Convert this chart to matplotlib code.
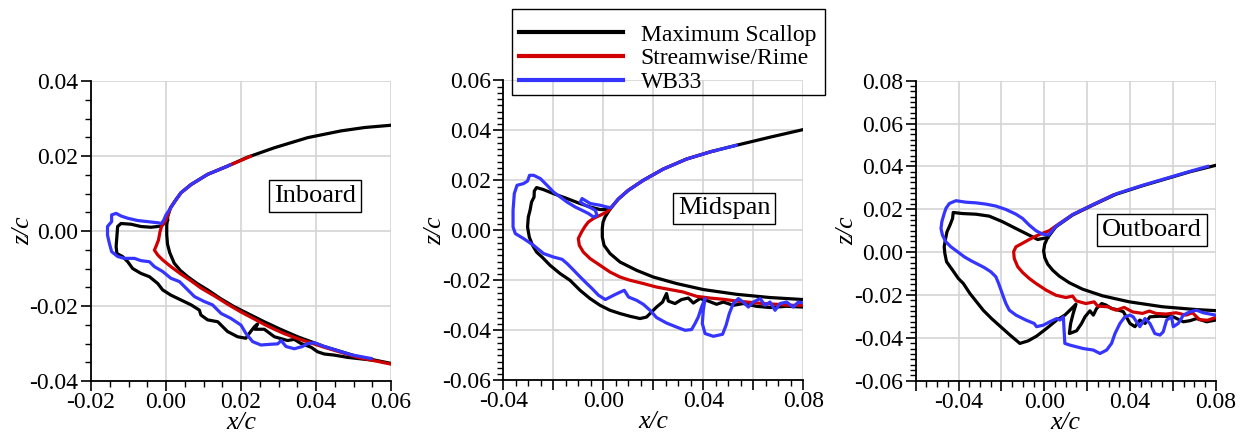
import numpy as np
import matplotlib
matplotlib.use('Agg')
import matplotlib.pyplot as plt
from matplotlib.ticker import MultipleLocator, FuncFormatter
from matplotlib.patches import Rectangle

plt.rcParams['font.family'] = ['Liberation Serif', 'DejaVu Serif']
plt.rcParams['axes.unicode_minus'] = False

# ---------------- Inboard ----------------
in_foil_x = [0.0600, 0.0530, 0.0467, 0.0378, 0.0289, 0.0218, 0.0164, 0.0111, 0.0067, 0.0040, 0.0027, 0.0012,
             0.0005, 0.0002, 0.0002, 0.0004, 0.0010, 0.0022, 0.0038, 0.0058, 0.0083, 0.0111, 0.0145, 0.0182,
             0.0222, 0.0262, 0.0305, 0.0351, 0.0422, 0.0511, 0.0600]
in_foil_z = [0.0282, 0.0276, 0.0267, 0.0249, 0.0222, 0.0197, 0.0173, 0.0151, 0.0124, 0.0102, 0.0084, 0.0062,
             0.0040, 0.0015, -0.0010, -0.0035, -0.0058, -0.0086, -0.0105, -0.0122, -0.0140, -0.0157, -0.0180,
             -0.0202, -0.0222, -0.0242, -0.0262, -0.0282, -0.0308, -0.0335, -0.0353]

in_scallop_x = [0.0004, -0.0013, -0.0040, -0.0067, -0.0093, -0.0120, -0.0129, -0.0131, -0.0133, -0.0131, -0.0116,
                -0.0102, -0.0089, -0.0067, -0.0044, -0.0022, -0.0009, 0.0013, 0.0040, 0.0067, 0.0089, 0.0093,
                0.0111, 0.0138, 0.0151, 0.0164, 0.0191, 0.0213, 0.0222, 0.0236, 0.0244, 0.0237, 0.0262, 0.0289,
                0.0324, 0.0342, 0.0360, 0.0387, 0.0404, 0.0422, 0.0449, 0.0484, 0.0511, 0.0547]
in_scallop_z = [0.0029, 0.0013, 0.0010, 0.0012, 0.0018, 0.0020, 0.0012, -0.0015, -0.0042, -0.0060, -0.0068,
                -0.0082, -0.0100, -0.0113, -0.0122, -0.0140, -0.0157, -0.0171, -0.0184, -0.0197, -0.0211, -0.0224,
                -0.0237, -0.0242, -0.0255, -0.0268, -0.0282, -0.0286, -0.0273, -0.0255, -0.0248, -0.0262, -0.0262,
                -0.0282, -0.0292, -0.0289, -0.0300, -0.0310, -0.0322, -0.0328, -0.0331, -0.0337, -0.0340, -0.0344]

in_rime_x = [0.0225, 0.0164, 0.0111, 0.0067, 0.0040, 0.0027, 0.0012, 0.0000, -0.0012, -0.0016, -0.0020, -0.0027,
             -0.0031, -0.0022, -0.0009, 0.0013, 0.0040, 0.0067, 0.0093, 0.0129, 0.0164, 0.0200, 0.0236, 0.0262,
             0.0289, 0.0316, 0.0351, 0.0422, 0.0511, 0.0600]
in_rime_z = [0.0199, 0.0173, 0.0151, 0.0124, 0.0102, 0.0084, 0.0062, 0.0029, 0.0012, -0.0002, -0.0024, -0.0042,
             -0.0051, -0.0064, -0.0077, -0.0095, -0.0115, -0.0133, -0.0152, -0.0173, -0.0195, -0.0216, -0.0235,
             -0.0249, -0.0262, -0.0274, -0.0287, -0.0310, -0.0337, -0.0355]

in_wb33_x = [0.0170, 0.0164, 0.0111, 0.0067, 0.0040, 0.0027, 0.0013, 0.0000, -0.0006, -0.0012, -0.0022, -0.0049,
             -0.0076, -0.0102, -0.0120, -0.0133, -0.0145, -0.0145, -0.0156, -0.0156, -0.0151, -0.0145, -0.0129,
             -0.0111, -0.0084, -0.0067, -0.0044, -0.0031, -0.0009, 0.0013, 0.0036, 0.0058, 0.0076, 0.0102,
             0.0124, 0.0147, 0.0173, 0.0200, 0.0213, 0.0231, 0.0253, 0.0280, 0.0298, 0.0307, 0.0320, 0.0342,
             0.0364, 0.0378, 0.0396, 0.0422, 0.0458, 0.0493, 0.0547]
in_wb33_z = [0.0176, 0.0173, 0.0151, 0.0124, 0.0102, 0.0084, 0.0062, 0.0043, 0.0029, 0.0020, 0.0022, 0.0025,
             0.0028, 0.0034, 0.0040, 0.0047, 0.0043, 0.0025, 0.0012, -0.0011, -0.0033, -0.0055, -0.0068,
             -0.0073, -0.0073, -0.0079, -0.0082, -0.0095, -0.0108, -0.0126, -0.0135, -0.0157, -0.0175, -0.0188,
             -0.0197, -0.0220, -0.0233, -0.0251, -0.0273, -0.0295, -0.0304, -0.0302, -0.0301, -0.0292, -0.0308,
             -0.0314, -0.0308, -0.0300, -0.0298, -0.0308, -0.0319, -0.0330, -0.0340]

# ---------------- Midspan ----------------
mid_foil_x = [0.0800, 0.0665, 0.0532, 0.0432, 0.0333, 0.0240, 0.0160, 0.0100, 0.0060, 0.0027, 0.0007, -0.0001,
              -0.0004, -0.0004, 0.0003, 0.0027, 0.0067, 0.0133, 0.0200, 0.0293, 0.0400, 0.0533, 0.0667, 0.0800]
mid_foil_z = [0.0403, 0.0372, 0.0340, 0.0315, 0.0285, 0.0245, 0.0200, 0.0160, 0.0125, 0.0085, 0.0053, 0.0033,
              0.0008, -0.0027, -0.0060, -0.0093, -0.0127, -0.0160, -0.0187, -0.0213, -0.0237, -0.0256, -0.0269,
              -0.0277]

mid_scallop_x = [0.0025, -0.0013, -0.0052, -0.0093, -0.0145, -0.0200, -0.0240, -0.0267, -0.0276, -0.0277, -0.0287,
                 -0.0293, -0.0300, -0.0303, -0.0296, -0.0283, -0.0267, -0.0243, -0.0213, -0.0173, -0.0133, -0.0093,
                 -0.0053, -0.0013, 0.0027, 0.0067, 0.0107, 0.0147, 0.0173, 0.0193, 0.0213, 0.0237, 0.0253, 0.0260,
                 0.0287, 0.0313, 0.0340, 0.0360, 0.0387, 0.0420, 0.0453, 0.0480, 0.0520, 0.0560, 0.0613, 0.0667,
                 0.0733, 0.0800]
mid_scallop_z = [0.0083, 0.0083, 0.0093, 0.0107, 0.0127, 0.0147, 0.0163, 0.0171, 0.0157, 0.0133, 0.0113, 0.0080,
                 0.0053, 0.0013, -0.0027, -0.0060, -0.0087, -0.0109, -0.0140, -0.0173, -0.0200, -0.0240, -0.0273,
                 -0.0300, -0.0320, -0.0333, -0.0344, -0.0353, -0.0347, -0.0327, -0.0307, -0.0287, -0.0253, -0.0283,
                 -0.0293, -0.0277, -0.0271, -0.0291, -0.0273, -0.0283, -0.0296, -0.0287, -0.0300, -0.0293, -0.0304,
                 -0.0309, -0.0304, -0.0307]

mid_rime_x = [0.0450, 0.0432, 0.0333, 0.0240, 0.0160, 0.0100, 0.0060, 0.0027, 0.0013, -0.0013, -0.0040, -0.0060,
              -0.0073, -0.0087, -0.0100, -0.0096, -0.0080, -0.0053, -0.0013, 0.0027, 0.0067, 0.0107, 0.0160,
              0.0213, 0.0267, 0.0320, 0.0373, 0.0427, 0.0480, 0.0533, 0.0587, 0.0640, 0.0693, 0.0747, 0.0800]
mid_rime_z = [0.0319, 0.0315, 0.0285, 0.0245, 0.0200, 0.0160, 0.0125, 0.0085, 0.0073, 0.0060, 0.0047, 0.0033,
              0.0016, -0.0007, -0.0033, -0.0060, -0.0087, -0.0113, -0.0140, -0.0167, -0.0187, -0.0200, -0.0213,
              -0.0227, -0.0237, -0.0247, -0.0264, -0.0271, -0.0276, -0.0283, -0.0288, -0.0293, -0.0296, -0.0300,
              -0.0300]

mid_wb33_x = [0.0532, 0.0432, 0.0333, 0.0240, 0.0160, 0.0100, 0.0060, 0.0030, 0.0015, -0.0012, -0.0052, -0.0085,
              -0.0092, -0.0072, -0.0052, -0.0032, -0.0025, -0.0039, -0.0059, -0.0085, -0.0112, -0.0145, -0.0172,
              -0.0199, -0.0225, -0.0252, -0.0279, -0.0295, -0.0303, -0.0319, -0.0345, -0.0356, -0.0361, -0.0361,
              -0.0352, -0.0319, -0.0279, -0.0239, -0.0199, -0.0165, -0.0145, -0.0125, -0.0099, -0.0072, -0.0045,
              -0.0019, 0.0008, 0.0041, 0.0068, 0.0084, 0.0101, 0.0133, 0.0160, 0.0187, 0.0213, 0.0253, 0.0293,
              0.0327, 0.0353, 0.0367, 0.0380, 0.0393, 0.0407, 0.0400, 0.0396, 0.0407, 0.0440, 0.0477, 0.0491,
              0.0504, 0.0520, 0.0540, 0.0560, 0.0580, 0.0600, 0.0627, 0.0647, 0.0667, 0.0687, 0.0707, 0.0733,
              0.0760, 0.0780, 0.0800]
mid_wb33_z = [0.0340, 0.0315, 0.0285, 0.0245, 0.0200, 0.0160, 0.0125, 0.0090, 0.0093, 0.0100, 0.0107, 0.0127,
              0.0113, 0.0100, 0.0091, 0.0080, 0.0060, 0.0053, 0.0067, 0.0080, 0.0093, 0.0113, 0.0133, 0.0153,
              0.0180, 0.0207, 0.0220, 0.0220, 0.0197, 0.0187, 0.0180, 0.0147, 0.0080, 0.0013, -0.0013, -0.0033,
              -0.0060, -0.0093, -0.0107, -0.0116, -0.0133, -0.0153, -0.0180, -0.0207, -0.0233, -0.0260, -0.0277,
              -0.0260, -0.0247, -0.0240, -0.0267, -0.0280, -0.0296, -0.0320, -0.0349, -0.0371, -0.0387, -0.0400,
              -0.0397, -0.0373, -0.0347, -0.0307, -0.0273, -0.0320, -0.0373, -0.0413, -0.0424, -0.0416, -0.0380,
              -0.0333, -0.0293, -0.0273, -0.0287, -0.0307, -0.0287, -0.0273, -0.0300, -0.0287, -0.0320, -0.0293,
              -0.0287, -0.0307, -0.0287, -0.0291]

# ---------------- Outboard ----------------
out_foil_x = [0.0800, 0.0680, 0.0568, 0.0459, 0.0335, 0.0226, 0.0132, 0.0054, 0.0016, 0.0002, -0.0003, 0.0002,
              0.0016, 0.0039, 0.0070, 0.0117, 0.0179, 0.0272, 0.0397, 0.0552, 0.0708, 0.0800]
out_foil_z = [0.0405, 0.0375, 0.0342, 0.0310, 0.0270, 0.0219, 0.0173, 0.0118, 0.0068, 0.0037, 0.0006, -0.0025,
              -0.0056, -0.0084, -0.0112, -0.0143, -0.0173, -0.0204, -0.0232, -0.0255, -0.0268, -0.0273]

out_scallop_x = [0.0016, -0.0031, -0.0062, -0.0132, -0.0195, -0.0257, -0.0319, -0.0381, -0.0425, -0.0428, -0.0440,
                 -0.0454, -0.0462, -0.0467, -0.0464, -0.0456, -0.0428, -0.0401, -0.0378, -0.0347, -0.0316, -0.0285,
                 -0.0246, -0.0207, -0.0160, -0.0114, -0.0075, -0.0036, 0.0011, 0.0058, 0.0096, 0.0128, 0.0148,
                 0.0135, 0.0123, 0.0117, 0.0151, 0.0174, 0.0190, 0.0213, 0.0229, 0.0244, 0.0268, 0.0288, 0.0314,
                 0.0338, 0.0369, 0.0400, 0.0423, 0.0446, 0.0470, 0.0493, 0.0540, 0.0602, 0.0649, 0.0680, 0.0711,
                 0.0758, 0.0800]
out_scallop_z = [0.0068, 0.0059, 0.0075, 0.0110, 0.0142, 0.0168, 0.0177, 0.0180, 0.0185, 0.0157, 0.0126, 0.0095,
                 0.0056, 0.0025, -0.0006, -0.0045, -0.0084, -0.0123, -0.0146, -0.0193, -0.0232, -0.0271, -0.0310,
                 -0.0345, -0.0387, -0.0426, -0.0414, -0.0392, -0.0356, -0.0317, -0.0294, -0.0263, -0.0243, -0.0286,
                 -0.0333, -0.0380, -0.0367, -0.0333, -0.0302, -0.0274, -0.0294, -0.0263, -0.0240, -0.0247, -0.0263,
                 -0.0268, -0.0278, -0.0333, -0.0348, -0.0317, -0.0333, -0.0302, -0.0299, -0.0302, -0.0325, -0.0320,
                 -0.0310, -0.0325, -0.0317]

out_rime_x = [0.0320, 0.0226, 0.0132, 0.0054, 0.0023, -0.0008, -0.0039, -0.0070, -0.0104, -0.0132, -0.0143,
              -0.0140, -0.0124, -0.0101, -0.0070, -0.0039, 0.0008, 0.0054, 0.0101, 0.0132, 0.0148, 0.0194, 0.0233,
              0.0249, 0.0296, 0.0335, 0.0373, 0.0412, 0.0459, 0.0490, 0.0521, 0.0568, 0.0615, 0.0661, 0.0692,
              0.0724, 0.0762, 0.0800]
out_rime_z = [0.0266, 0.0221, 0.0175, 0.0122, 0.0100, 0.0088, 0.0075, 0.0059, 0.0040, 0.0025, 0.0002, -0.0030,
              -0.0068, -0.0095, -0.0123, -0.0146, -0.0177, -0.0201, -0.0212, -0.0205, -0.0227, -0.0240, -0.0232,
              -0.0252, -0.0255, -0.0271, -0.0258, -0.0279, -0.0286, -0.0275, -0.0286, -0.0289, -0.0283, -0.0294,
              -0.0283, -0.0315, -0.0318, -0.0305]

out_wb33_x = [0.0762, 0.0680, 0.0568, 0.0459, 0.0335, 0.0226, 0.0132, 0.0054, 0.0020, -0.0008, -0.0039, -0.0070,
              -0.0101, -0.0132, -0.0179, -0.0226, -0.0272, -0.0319, -0.0366, -0.0412, -0.0443, -0.0459, -0.0467,
              -0.0478, -0.0482, -0.0475, -0.0459, -0.0436, -0.0405, -0.0373, -0.0342, -0.0311, -0.0280, -0.0249,
              -0.0226, -0.0213, -0.0202, -0.0191, -0.0179, -0.0163, -0.0132, -0.0086, -0.0047, -0.0036, -0.0005,
              0.0026, 0.0058, 0.0073, 0.0089, 0.0096, 0.0120, 0.0151, 0.0182, 0.0229, 0.0260, 0.0291, 0.0314,
              0.0330, 0.0353, 0.0376, 0.0400, 0.0415, 0.0446, 0.0470, 0.0493, 0.0516, 0.0540, 0.0555, 0.0571,
              0.0594, 0.0602, 0.0625, 0.0649, 0.0680, 0.0711, 0.0742, 0.0773, 0.0800]
out_wb33_z = [0.0400, 0.0377, 0.0344, 0.0312, 0.0272, 0.0221, 0.0175, 0.0120, 0.0080, 0.0084, 0.0100, 0.0126,
              0.0157, 0.0177, 0.0199, 0.0215, 0.0224, 0.0230, 0.0233, 0.0240, 0.0227, 0.0204, 0.0180, 0.0142,
              0.0110, 0.0079, 0.0048, 0.0025, 0.0002, -0.0022, -0.0040, -0.0056, -0.0072, -0.0092, -0.0115,
              -0.0146, -0.0177, -0.0208, -0.0240, -0.0271, -0.0294, -0.0317, -0.0333, -0.0348, -0.0341, -0.0325,
              -0.0310, -0.0317, -0.0302, -0.0426, -0.0434, -0.0442, -0.0450, -0.0457, -0.0473, -0.0457, -0.0426,
              -0.0380, -0.0333, -0.0302, -0.0294, -0.0302, -0.0348, -0.0310, -0.0333, -0.0380, -0.0387, -0.0372,
              -0.0317, -0.0302, -0.0348, -0.0333, -0.0294, -0.0278, -0.0271, -0.0283, -0.0289, -0.0294]

labels = ['Maximum Scallop', 'Streamwise/Rime', 'WB33']
colors = ['#000000', '#d00000', '#3535ff']

panels = [
    dict(name='Inboard', xlim=(-0.02, 0.06), ylim=(-0.04, 0.04), xstep=0.02, ylabstep=0.02, yminor=0.005,
         box=(0.0397, 0.0093), rect=[91 / 1244, 57 / 438, 300 / 1244, 300 / 438],
         foil=(in_foil_x, in_foil_z),
         shapes=[(in_scallop_x, in_scallop_z), (in_rime_x, in_rime_z), (in_wb33_x, in_wb33_z)]),
    dict(name='Midspan', xlim=(-0.04, 0.08), ylim=(-0.06, 0.06), xstep=0.04, ylabstep=0.02, yminor=0.0025,
         box=(0.0483, 0.0088), rect=[503.3 / 1244, 57.7 / 438, 300 / 1244, 300 / 438],
         foil=(mid_foil_x, mid_foil_z),
         shapes=[(mid_scallop_x, mid_scallop_z), (mid_rime_x, mid_rime_z), (mid_wb33_x, mid_wb33_z)]),
    dict(name='Outboard', xlim=(-0.06, 0.08), ylim=(-0.06, 0.08), xstep=0.04, ylabstep=0.02, yminor=0.0025,
         box=(0.0503, 0.0103), rect=[915.7 / 1244, 57.3 / 438, 300 / 1244, 300 / 438],
         foil=(out_foil_x, out_foil_z),
         shapes=[(out_scallop_x, out_scallop_z), (out_rime_x, out_rime_z), (out_wb33_x, out_wb33_z)]),
]


def make_fmt(step):
    def fmt(v, pos):
        k = v / step
        if abs(k - round(k)) > 1e-6:
            return ''
        if abs(v) < 1e-9:
            v = 0.0
        return '%.2f' % v
    return FuncFormatter(fmt)


fig = plt.figure(figsize=(12.44, 4.38), dpi=100)
handles = []
for p in panels:
    ax = fig.add_axes(p['rect'])
    ax.plot(p['foil'][0], p['foil'][1], color=colors[0], lw=2.3, solid_joinstyle='round', zorder=3)
    for (sx, sz), c, lab in zip(p['shapes'], colors, labels):
        ln, = ax.plot(sx, sz, color=c, lw=2.3, label=lab, solid_joinstyle='round', zorder=3)
        if len(handles) < 3:
            handles.append(ln)
    ax.set_xlim(p['xlim'])
    ax.set_ylim(p['ylim'])
    ax.xaxis.set_major_locator(MultipleLocator(0.02))
    ax.xaxis.set_minor_locator(MultipleLocator(0.005))
    ax.yaxis.set_major_locator(MultipleLocator(0.02))
    ax.yaxis.set_minor_locator(MultipleLocator(p['yminor']))
    ax.xaxis.set_major_formatter(make_fmt(p['xstep']))
    ax.yaxis.set_major_formatter(make_fmt(p['ylabstep']))
    ax.grid(True, which='major', color='#d4d4d4', lw=1.2)
    ax.set_axisbelow(True)
    for s in ['top', 'right']:
        ax.spines[s].set_visible(False)
    for s in ['left', 'bottom']:
        ax.spines[s].set_linewidth(1.3)
    ax.tick_params(which='major', direction='out', length=7, width=1.2, labelsize=17, pad=2)
    ax.tick_params(axis='x', which='major', pad=1)
    ax.tick_params(which='minor', direction='out', length=4, width=1.0)
    ax.set_xlabel('x/c', fontsize=18.5, style='italic')
    ax.set_ylabel('z/c', fontsize=18.5, style='italic')
    ax.xaxis.set_label_coords(0.5, -0.103)
    ax.yaxis.set_label_coords(-0.19, 0.5)
    ax.text(p['box'][0], p['box'][1], p['name'], fontsize=19, ha='center', va='center', zorder=5,
            bbox=dict(boxstyle='square,pad=0.18', fc='white', ec='black', lw=1.0))

# legend box drawn as a plain rectangle in figure pixels, legend entries placed inside it
fig.patches.append(Rectangle((512 / 1244, 1 - 95 / 438), 313 / 1244, 86 / 438, transform=fig.transFigure,
                             fill=False, ec='black', lw=1.0))
leg = fig.legend(handles, labels, loc='upper left', bbox_to_anchor=(512 / 1244, 1 - 17 / 438),
                 fontsize=17, handlelength=4.4, handletextpad=0.75, labelspacing=0.1, borderpad=0.3,
                 borderaxespad=0, frameon=False)
for l in leg.get_lines():
    l.set_linewidth(3)

fig.savefig('out.png', dpi=100)
